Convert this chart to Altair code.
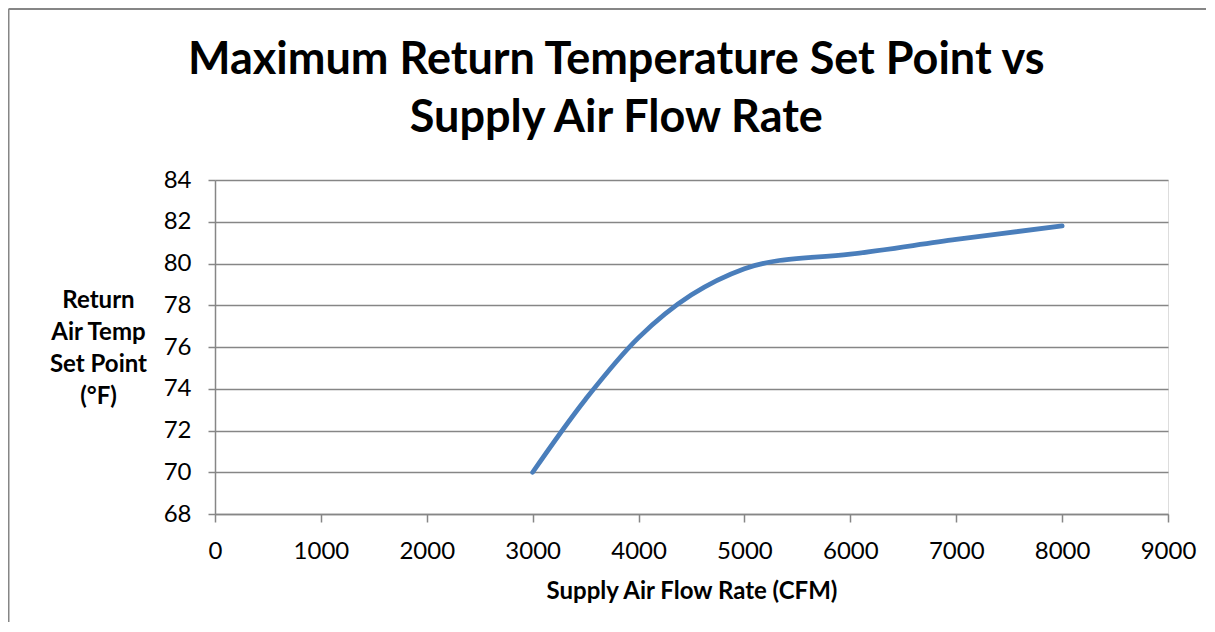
import altair as alt
import pandas as pd

# Data
cfm = [3000, 3500, 4000, 4500, 5000, 5300, 6000, 7000, 8000]
temp = [70.0, 73.5, 76.45, 78.5, 79.75, 80.12, 80.45, 81.15, 81.8]

x_ticks = [0, 1000, 2000, 3000, 4000, 5000, 6000, 7000, 8000, 9000]
y_ticks = [68, 70, 72, 74, 76, 78, 80, 82, 84]

title_lines = ["Maximum Return Temperature Set Point vs", "Supply Air Flow Rate"]
x_title = "Supply Air Flow Rate (CFM)"
y_title = ["Return", "Air Temp", "Set  Point", "(°F)"]

df = pd.DataFrame({"cfm": cfm, "temp": temp})

FONT = "Lato"
GRID = "#868686"
W, H = 953, 334

line = alt.Chart(df).mark_line(
    color="#4A7EBB", strokeWidth=4.8, strokeCap="round", interpolate="catmull-rom"
).encode(
    x=alt.X("cfm:Q",
            scale=alt.Scale(domain=[0, 9000], nice=False, zero=False),
            axis=alt.Axis(values=x_ticks, format="d", title=x_title,
                          grid=False, domainColor=GRID, domainWidth=1.5,
                          tickColor=GRID, tickWidth=1.5, tickSize=8,
                          labelFont=FONT, labelFontSize=24, labelColor="#000",
                          labelPadding=17, labelFlush=False,
                          titleFont=FONT, titleFontSize=24, titleFontWeight="bold",
                          titleColor="#000", titlePadding=16)),
    y=alt.Y("temp:Q",
            scale=alt.Scale(domain=[68, 84], nice=False, zero=False),
            axis=alt.Axis(values=y_ticks, title=y_title,
                          grid=True, gridColor=GRID, gridWidth=1.4,
                          domainColor=GRID, domainWidth=1.5,
                          tickColor=GRID, tickWidth=1.5, tickSize=7,
                          labelFont=FONT, labelFontSize=24, labelColor="#000",
                          labelPadding=17,
                          titleFont=FONT, titleFontSize=24, titleFontWeight="bold",
                          titleColor="#000", titleAngle=0, titleAlign="center",
                          titleBaseline="alphabetic", titleX=-117, titleY=127,
                          titleLineHeight=32)),
)

one = alt.Data(values=[{}])

frame_left = alt.Chart(one).mark_rule(color=GRID, strokeWidth=2).encode(
    x=alt.value(-206.5), y=alt.value(-171), y2=alt.value(H + 200))
frame_top = alt.Chart(one).mark_rule(color=GRID, strokeWidth=2).encode(
    x=alt.value(-206.5), x2=alt.value(W + 100), y=alt.value(-171))

title = alt.Chart(one).mark_text(
    font=FONT, fontSize=45, fontWeight="bold", color="#000",
    align="center", baseline="alphabetic", lineHeight=58
).encode(x=alt.value(401.3), y=alt.value(-106), text=alt.value(title_lines))

chart = alt.layer(frame_left, frame_top, line, title).properties(
    width=W, height=H,
    autosize=alt.AutoSizeParams(type="none"),
    padding={"left": 207, "top": 172, "right": 38, "bottom": 108},
).configure_view(stroke=None).configure(background="white")

chart.save("out.html", embed_options={"renderer": "svg", "actions": False})
